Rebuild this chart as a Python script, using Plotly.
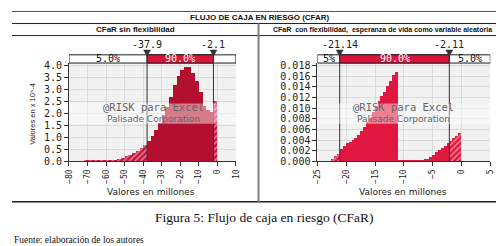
import plotly.graph_objects as go

# ---------------- data ----------------
left_centers = [-71, -69, -67, -65, -63, -61, -59, -57, -55, -53, -51, -49, -47, -45,
                -43, -41, -39, -37, -35, -33, -31, -29, -27, -25, -23, -21, -19, -17,
                -15, -13, -11, -9, -7, -5, -3, -1]
left_values = [0.02, 0.02, 0.02, 0.03, 0.03, 0.03, 0.04, 0.05, 0.06, 0.09, 0.14, 0.20,
               0.26, 0.33, 0.43, 0.55, 0.68, 0.85, 1.05, 1.30, 1.60, 1.92, 2.25, 2.70,
               3.20, 3.55, 3.80, 3.95, 3.93, 3.70, 3.35, 2.90, 2.30, 2.15, 2.05, 2.50]
left_bin_width = 2
left_delims = [-37.9, -2.1]
left_delim_labels = ["-37.9", "-2.1"]
left_pcts = ["5.0%", "90.0%", ""]

right_centers = [-22.25, -21.75, -21.25, -20.75, -20.25, -19.75, -19.25, -18.75, -18.25,
                 -17.75, -17.25, -16.75, -16.25, -15.75, -15.25, -14.75, -14.25, -13.75,
                 -13.25, -12.75, -12.25, -11.75, -11.25, -10.75, -10.25, -9.75, -9.25,
                 -8.75, -8.25, -7.75, -7.25, -6.75, -6.25, -5.75, -5.25, -4.75, -4.25,
                 -3.75, -3.25, -2.75, -2.25, -1.75, -1.25, -0.75, -0.25]
right_values = [0.0004, 0.0009, 0.0014, 0.0024, 0.0029, 0.0034, 0.0037, 0.0040, 0.0044,
                0.0049, 0.0057, 0.0064, 0.0073, 0.0082, 0.0093, 0.0104, 0.0113, 0.0122,
                0.0131, 0.0141, 0.0152, 0.0163, 0.0168, 0.0003, 0.0002, 0.0002, 0.0002,
                0.0002, 0.0002, 0.0002, 0.0003, 0.0003, 0.0004, 0.0005, 0.0008, 0.0012,
                0.0017, 0.0021, 0.0025, 0.0029, 0.0034, 0.0039, 0.0043, 0.0047, 0.0054]
right_bin_width = 0.5
right_delims = [-21.14, -2.11]
right_delim_labels = ["-21.14", "-2.11"]
right_pcts = ["5%", "90.0%", "5.0%"]

main_title = "FLUJO DE CAJA EN RIESGO (CFAR)"
left_title = "CFaR sin flexibilidad"
right_title = "CFaR  con flexibilidad,  esperanza de vida como variable aleatoria"
x_title = "Valores en millones"
y_title_left = "Valores en x 10^-4"
caption = "Figura 5: Flujo de caja en riesgo (CFaR)"
source = "Fuente: elaboración de los autores"
wm1 = "@RISK para Excel"
wm2 = "Palisade Corporation"

# ---------------- layout helpers ----------------
W, H = 504, 246
def px(x):
    return x / W
def py(y):
    return 1 - y / H

MONO = "DejaVu Sans Mono"
SANS = "DejaVu Sans"
RED = "#DC143C"

PLOT_TOP, PLOT_BOT = 54, 156
BAN_TOP = 45.5

fig = go.Figure()

def add_hist(centers, values, width, delims, solid, hatch, xa, ya):
    colors, shapes = [], []
    for c in centers:
        if c < delims[0] or c > delims[1]:
            colors.append(hatch)
            shapes.append("/")
        else:
            colors.append(solid)
            shapes.append("")
    fig.add_trace(go.Bar(
        x=centers, y=values, width=width, xaxis=xa, yaxis=ya,
        marker=dict(color=colors, line=dict(width=0),
                    pattern=dict(shape=shapes, fillmode="overlay", fgcolor="white",
                                 size=4, solidity=0.35)),
        showlegend=False, hoverinfo="skip"))

add_hist(left_centers, left_values, left_bin_width, left_delims, "#B3102F", "#C8143C", "x", "y")
add_hist(right_centers, right_values, right_bin_width, right_delims, "#E0173F", "#E0173F", "x2", "y2")

axis_common = dict(showline=True, linecolor="#333", linewidth=1, ticks="outside",
                   ticklen=4, tickcolor="#333", showgrid=True, gridcolor="#DADADA",
                   gridwidth=1, zeroline=False, tickfont=dict(family=MONO, size=10, color="#222"))

fig.update_layout(
    width=W, height=H, margin=dict(l=0, r=0, t=0, b=0),
    paper_bgcolor="white", plot_bgcolor="#F1F1F1", bargap=0, showlegend=False,
    xaxis=dict(axis_common, domain=[px(58), px(228)], range=[-80, 10], dtick=10,
               tickangle=-90, anchor="y", tickfont=dict(family=MONO, size=8, color="#222")),
    yaxis=dict(axis_common, domain=[py(PLOT_BOT), py(PLOT_TOP)], range=[0, 4.1], dtick=0.5,
               tickformat=".1f", anchor="x"),
    xaxis2=dict(axis_common, domain=[px(311), px(487)], range=[-25, 5], dtick=5,
                tickangle=-90, anchor="y2", tickfont=dict(family=MONO, size=8, color="#222")),
    yaxis2=dict(axis_common, domain=[py(PLOT_BOT), py(PLOT_TOP)], range=[0, 0.0185],
                dtick=0.002, tickformat=".3f", anchor="x2"),
)

shapes = []
ann = []

def banner(xref, xmin, xmax, dom_px, delims, dlabels, pcts, wx_center):
    y0, y1 = py(PLOT_TOP), py(BAN_TOP)
    units_per_px = (xmax - xmin) / (dom_px[1] - dom_px[0])
    shapes.append(dict(type="rect", xref=xref, yref="paper", x0=xmin, x1=xmax, y0=y0, y1=y1,
                       fillcolor="white", line=dict(color="#222", width=1)))
    shapes.append(dict(type="rect", xref=xref, yref="paper", x0=delims[0], x1=delims[1],
                       y0=y0, y1=y1, fillcolor=RED, line=dict(color="#222", width=1)))
    mids = [(xmin + delims[0]) / 2, (delims[0] + delims[1]) / 2, (delims[1] + xmax) / 2]
    cols = ["#111", "white", "#111"]
    for m, t, c in zip(mids, pcts, cols):
        if t:
            ann.append(dict(x=m, y=(y0 + y1) / 2, xref=xref, yref="paper", text=t,
                            showarrow=False, font=dict(family=MONO, size=10, color=c),
                            xanchor="center", yanchor="middle"))
    for d, lab in zip(delims, dlabels):
        shapes.append(dict(type="line", xref=xref, yref="paper", x0=d, x1=d,
                           y0=py(PLOT_BOT), y1=y1, line=dict(color="#333", width=1)))
        hw = 3.5 * units_per_px
        path = (f"M {d - hw},{py(40.5)} L {d + hw},{py(40.5)} L {d},{py(47)} Z")
        shapes.append(dict(type="path", xref=xref, yref="paper", path=path,
                           fillcolor="#333", line=dict(color="#333", width=0.5)))
        ann.append(dict(x=d, y=py(34.5), xref=xref, yref="paper", text=lab, showarrow=False,
                        font=dict(family=MONO, size=10, color="#222"),
                        xanchor="center", yanchor="middle"))
    # watermark band
    xa = "x domain" if xref == "x" else "x2 domain"
    shapes.append(dict(type="rect", xref=xa, yref="paper", x0=0, x1=1, y0=py(117), y1=py(96),
                       fillcolor="rgba(255,255,255,0.45)", line=dict(width=0), layer="above"))
    ann.append(dict(x=px(wx_center), y=py(99.5), xref="paper", yref="paper", text=wm1,
                    showarrow=False, font=dict(family=MONO, size=10.5, color="#666"),
                    xanchor="center", yanchor="middle", borderpad=0))
    ann.append(dict(x=px(wx_center), y=py(111.8), xref="paper", yref="paper", text=wm2,
                    showarrow=False, font=dict(family=SANS, size=9, color="#666"),
                    xanchor="center", yanchor="middle", borderpad=0))

banner("x", -80, 10, (58, 228), left_delims, left_delim_labels, left_pcts, 144)
banner("x2", -25, 5, (311, 487), right_delims, right_delim_labels, right_pcts, 399)

# table frame
def hline(y, x0, x1, color, w):
    shapes.append(dict(type="line", xref="paper", yref="paper", x0=px(x0), x1=px(x1),
                       y0=py(y), y1=py(y), line=dict(color=color, width=w)))
hline(0.5, 0, 504, "#555", 1)
hline(13, 0, 504, "#222", 1)
hline(25.5, 0, 504, "#222", 1)
hline(198, 0, 502, "#222", 1.5)
shapes.append(dict(type="line", xref="paper", yref="paper", x0=px(251), x1=px(251),
                   y0=py(13), y1=py(198), line=dict(color="#808080", width=2)))

def text(x, y, t, font, xanchor="center", angle=0):
    ann.append(dict(x=px(x), y=py(y), xref="paper", yref="paper", text=t, showarrow=False,
                    font=font, xanchor=xanchor, yanchor="middle", textangle=angle))

text(252, 6.8, f"<b>{main_title}</b>", dict(family="Liberation Sans", size=8, color="#111"))
text(126, 19.3, f"<b>{left_title}</b>", dict(family="Liberation Sans", size=8, color="#111"))
text(377, 19.3, f"<b>{right_title}</b>", dict(family="Liberation Sans", size=7, color="#111"))
text(142, 188, x_title, dict(family=SANS, size=9, color="#222"))
text(398, 188, x_title, dict(family=SANS, size=9, color="#222"))
text(20, 107, y_title_left, dict(family="Liberation Sans", size=7.5, color="#222"), angle=-90)
text(257, 214, caption, dict(family="Liberation Serif", size=13.5, color="#111"))
text(0, 238, source, dict(family="Liberation Serif", size=9.5, color="#111"), xanchor="left")

fig.update_layout(shapes=shapes, annotations=ann)
fig.write_html("out.html")
